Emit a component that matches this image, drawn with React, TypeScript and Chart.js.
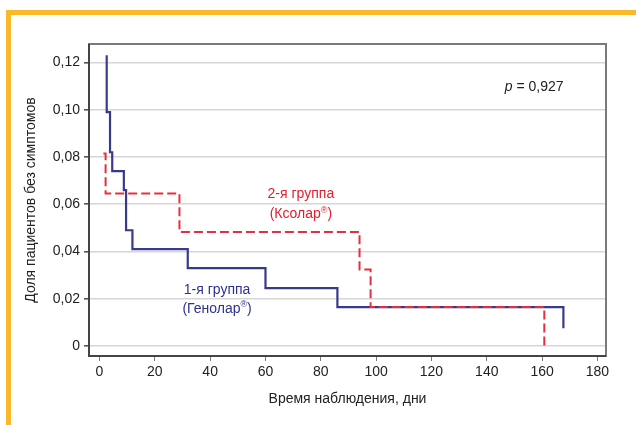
import React, { useEffect, useRef } from "react";
import { Chart, registerables } from "chart.js";

Chart.register(...registerables);

// ---- Data ----
const xTickValues = [0, 20, 40, 60, 80, 100, 120, 140, 160, 180];
const yTickValues = [0, 0.02, 0.04, 0.06, 0.08, 0.1, 0.12];
const yTickLabels = ["0", "0,02", "0,04", "0,06", "0,08", "0,10", "0,12"];

// Group 1 (Генолар) Kaplan–Meier style curve
const group1StartTime = 2.6;
const group1StartLevel = 0.123;
const group1EventTimes = [2.6, 3.8, 4.6, 8.8, 9.6, 11.9, 31.9, 60.0, 86.0, 167.7];
const group1Levels = [0.099, 0.082, 0.074, 0.066, 0.049, 0.041, 0.033, 0.0245, 0.0165, 0.0075];

// Group 2 (Ксолар)
const group2StartTime = 1.4;
const group2StartLevel = 0.0815;
const group2EventTimes = [2.2, 28.9, 94.0, 98.0, 160.8];
const group2Levels = [0.0645, 0.0483, 0.0324, 0.0165, 0.0];

const FONT = "'Liberation Sans', Arial, sans-serif";

function stepPoints(t0: number, y0: number, times: number[], levels: number[]) {
  const pts: { x: number; y: number }[] = [{ x: t0, y: y0 }];
  let prev = y0;
  times.forEach((t, i) => {
    pts.push({ x: t, y: prev });
    pts.push({ x: t, y: levels[i] });
    prev = levels[i];
  });
  return pts;
}

function drawSup(ctx: CanvasRenderingContext2D, cx: number, y: number, before: string, sup: string, after: string, size: number) {
  ctx.font = `${size}px ${FONT}`;
  const w1 = ctx.measureText(before).width;
  const w3 = ctx.measureText(after).width;
  ctx.font = `${Math.round(size * 0.65)}px ${FONT}`;
  const w2 = ctx.measureText(sup).width;
  let x = cx - (w1 + w2 + w3) / 2;
  ctx.textAlign = "left";
  ctx.textBaseline = "middle";
  ctx.font = `${size}px ${FONT}`;
  ctx.fillText(before, x, y);
  x += w1;
  ctx.font = `${Math.round(size * 0.65)}px ${FONT}`;
  ctx.fillText(sup, x, y - size * 0.3);
  x += w2;
  ctx.font = `${size}px ${FONT}`;
  ctx.fillText(after, x, y);
}

const framePlugin = {
  id: "frameAndNotes",
  beforeDatasetsDraw(chart: any) {
    const { ctx, chartArea: a } = chart;
    ctx.save();
    ctx.strokeStyle = "#7a7a7a";
    ctx.lineWidth = 2;
    ctx.strokeRect(a.left, a.top, a.right - a.left, a.bottom - a.top);
    ctx.strokeStyle = "#444";
    ctx.beginPath();
    ctx.moveTo(a.left, a.top);
    ctx.lineTo(a.left, a.bottom);
    ctx.lineTo(a.right, a.bottom);
    ctx.stroke();
    ctx.restore();
  },
  afterDraw(chart: any) {
    const { ctx } = chart;
    const xs = chart.scales.x;
    const ys = chart.scales.y;
    ctx.save();
    // p-value
    const px = xs.getPixelForValue(146.5);
    const py = ys.getPixelForValue(0.1094);
    ctx.fillStyle = "#222";
    ctx.textBaseline = "middle";
    ctx.textAlign = "left";
    ctx.font = `italic 14px ${FONT}`;
    ctx.fillText("p", px, py);
    const pw = ctx.measureText("p").width;
    ctx.font = `14px ${FONT}`;
    ctx.fillText(" = 0,927", px + pw, py);

    // Group 2 label
    ctx.fillStyle = "#e0202e";
    const rx = xs.getPixelForValue(72.8);
    const ry = ys.getPixelForValue(0.0642);
    ctx.font = `14px ${FONT}`;
    ctx.textAlign = "center";
    ctx.fillText("2-я группа", rx, ry);
    drawSup(ctx, rx, ry + 20, "(Ксолар", "®", ")", 14);

    // Group 1 label
    ctx.fillStyle = "#2e3192";
    const bx = xs.getPixelForValue(42.5);
    const by = ys.getPixelForValue(0.0237);
    ctx.font = `14px ${FONT}`;
    ctx.textAlign = "center";
    ctx.fillText("1-я группа", bx, by);
    drawSup(ctx, bx, by + 19, "(Генолар", "®", ")", 14);
    ctx.restore();
  },
};

export default function App() {
  const ref = useRef<HTMLCanvasElement>(null);
  useEffect(() => {
    if (!ref.current) return;
    const chart = new Chart(ref.current, {
      type: "line",
      data: {
        datasets: [
          {
            label: "2-я группа (Ксолар)",
            data: stepPoints(group2StartTime, group2StartLevel, group2EventTimes, group2Levels),
            borderColor: "#e4303e",
            borderWidth: 2,
            borderDash: [9, 4],
            pointRadius: 0,
            tension: 0,
            order: 0,
          },
          {
            label: "1-я группа (Генолар)",
            data: stepPoints(group1StartTime, group1StartLevel, group1EventTimes, group1Levels),
            borderColor: "#3a3a8a",
            borderWidth: 2.2,
            pointRadius: 0,
            tension: 0,
            order: 1,
          },
        ],
      },
      options: {
        animation: false,
        responsive: false,
        maintainAspectRatio: false,
        layout: { padding: { top: 44, right: 30, left: 0, bottom: 0 } },
        plugins: { legend: { display: false }, tooltip: { enabled: false } },
        scales: {
          x: {
            type: "linear",
            min: -3.8,
            max: 183.1,
            afterBuildTicks: (s: any) => {
              s.ticks = xTickValues.map((v) => ({ value: v }));
            },
            afterFit: (s: any) => {
              s.height = 69;
            },
            ticks: {
              color: "#222",
              font: { family: FONT, size: 14 },
              padding: 3,
              maxRotation: 0,
              autoSkip: false,
            },
            grid: {
              drawOnChartArea: false,
              drawTicks: true,
              tickLength: 5,
              tickColor: "#777",
            },
            border: { display: false },
            title: {
              display: true,
              text: "Время наблюдения, дни",
              color: "#222",
              font: { family: FONT, size: 14 },
              padding: { top: 0, bottom: 17 },
            },
          },
          y: {
            type: "linear",
            min: -0.0042,
            max: 0.1278,
            afterBuildTicks: (s: any) => {
              s.ticks = yTickValues.map((v) => ({ value: v }));
            },
            afterFit: (s: any) => {
              s.width = 89;
            },
            ticks: {
              color: "#222",
              font: { family: FONT, size: 14 },
              padding: 4,
              autoSkip: false,
              callback: (_v: any, i: number) => yTickLabels[i],
            },
            grid: {
              color: "#d6d6d6",
              lineWidth: 1.6,
              drawTicks: true,
              tickLength: 5,
              tickColor: "#555",
            },
            border: { display: false },
            title: {
              display: true,
              text: "Доля пациентов без симптомов",
              color: "#222",
              font: { family: FONT, size: 14 },
              padding: { top: 23, bottom: 0 },
            },
          },
        },
      },
      plugins: [framePlugin],
    });
    return () => chart.destroy();
  }, []);

  return (
    <div style={{ position: "fixed", left: 0, top: 0, width: 636, height: 425, background: "#fff" }}>
      <div
        style={{
          position: "absolute",
          left: 6,
          top: 10,
          right: 0,
          bottom: 0,
          borderTop: "5px solid #fbb829",
          borderLeft: "5px solid #fbb829",
        }}
      />
      <canvas ref={ref} width={636} height={425} style={{ position: "absolute", left: 0, top: 0, width: 636, height: 425 }} />
    </div>
  );
}
